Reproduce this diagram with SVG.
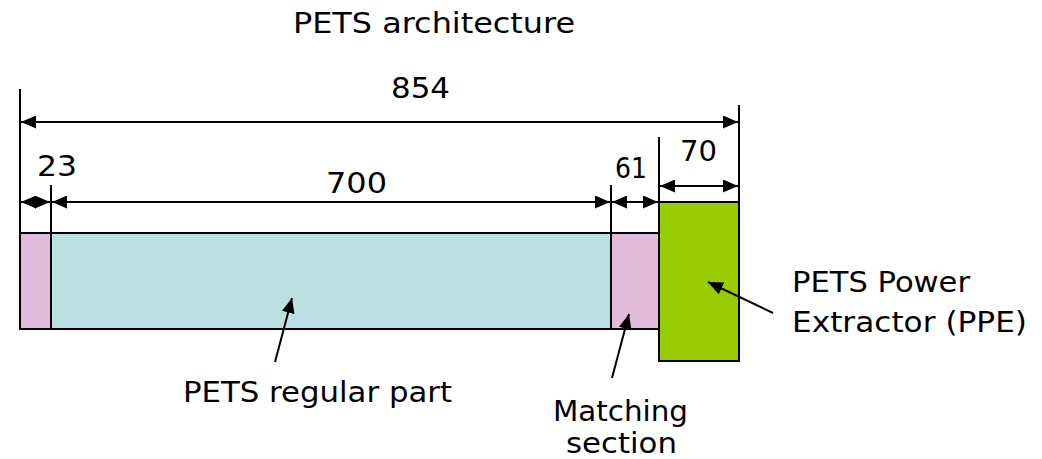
<svg xmlns="http://www.w3.org/2000/svg" width="1042" height="459" viewBox="0 0 1042 459">
<style>
text{font-family:"Comic Sans MS","DejaVu Sans",sans-serif;font-size:29px;fill:#000}
.ln{stroke:#000;stroke-width:2;fill:none}
.box{stroke:#000;stroke-width:2}
</style>
<defs>
<marker id="ah2" viewBox="0 0 15 13" refX="15" refY="6.5" markerWidth="15" markerHeight="13" markerUnits="userSpaceOnUse" orient="auto-start-reverse"><path d="M0,0 L15,6.5 L0,13 z" fill="#000"/></marker>
</defs>
<rect width="1042" height="459" fill="#fff"/>
<text x="293" y="33" textLength="282" lengthAdjust="spacingAndGlyphs">PETS architecture</text>
<g id="pink1"><rect class="box" x="20" y="233" width="31" height="96" fill="#E0BBDA"/></g>
<g id="regular"><rect class="box" x="51" y="233" width="560" height="96" fill="#BBE0E3"/></g>
<g id="pink2"><rect class="box" x="611" y="233" width="48" height="96" fill="#E0BBDA"/></g>
<g id="ppe"><rect class="box" x="659" y="202" width="80" height="159" fill="#99CC00"/></g>
<g id="connectors">
<line class="ln" x1="20" y1="89" x2="20" y2="233"/>
<line class="ln" x1="739" y1="105" x2="739" y2="202"/>
<line class="ln" x1="51" y1="185" x2="51" y2="233"/>
<line class="ln" x1="611" y1="185" x2="611" y2="233"/>
<line class="ln" x1="659" y1="137" x2="659" y2="202"/>
<line class="ln" x1="21" y1="122" x2="738" y2="122" marker-start="url(#ah2)" marker-end="url(#ah2)"/>
<line class="ln" x1="21" y1="202" x2="50" y2="202" marker-start="url(#ah2)" marker-end="url(#ah2)"/>
<line class="ln" x1="52" y1="202" x2="610" y2="202" marker-start="url(#ah2)" marker-end="url(#ah2)"/>
<line class="ln" x1="612" y1="202" x2="658" y2="202" marker-start="url(#ah2)" marker-end="url(#ah2)"/>
<line class="ln" x1="660" y1="186" x2="738" y2="186" marker-start="url(#ah2)" marker-end="url(#ah2)"/>
<line class="ln" x1="275" y1="362" x2="292" y2="298" marker-end="url(#ah2)"/>
<line class="ln" x1="612" y1="378" x2="629" y2="314" marker-end="url(#ah2)"/>
<line class="ln" x1="773" y1="313" x2="708" y2="282" marker-end="url(#ah2)"/>
</g>
<text x="391" y="98" textLength="59" lengthAdjust="spacingAndGlyphs">854</text>
<text x="37" y="176" textLength="40" lengthAdjust="spacingAndGlyphs">23</text>
<text x="326" y="193" textLength="61" lengthAdjust="spacingAndGlyphs">700</text>
<text x="615" y="178" textLength="32" lengthAdjust="spacingAndGlyphs">61</text>
<text x="680" y="161" textLength="37" lengthAdjust="spacingAndGlyphs">70</text>
<text x="183" y="402" textLength="269" lengthAdjust="spacingAndGlyphs">PETS regular part</text>
<text x="553" y="421" textLength="135" lengthAdjust="spacingAndGlyphs">Matching</text>
<text x="566" y="453" textLength="111" lengthAdjust="spacingAndGlyphs">section</text>
<text x="792" y="292" textLength="178" lengthAdjust="spacingAndGlyphs">PETS Power</text>
<text x="792" y="332" textLength="235" lengthAdjust="spacingAndGlyphs">Extractor (PPE)</text>
</svg>
